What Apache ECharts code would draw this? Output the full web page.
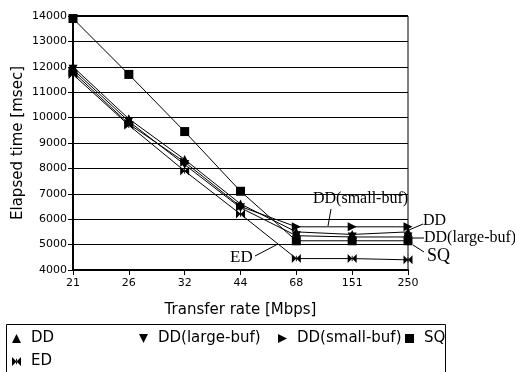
<!DOCTYPE html>
<html>
<head>
<meta charset="utf-8">
<script src="https://cdn.jsdelivr.net/npm/echarts@6/dist/echarts.min.js"></script>
<style>
  html, body { margin: 0; padding: 0; background: #fff; }
  #chart { width: 515px; height: 372px; }
</style>
</head>
<body>
<div id="chart"></div>
<script>
const categories = ['21', '26', '32', '44', '68', '151', '250']
const yTicks = [4000, 14000, 1000] // min, max, step

const dd = [12000, 9950, 8350, 6600, 5500, 5400, 5500]
const ddLarge = [11900, 9850, 8150, 6450, 5350, 5300, 5300]
const ddSmall = [11800, 9750, 8250, 6500, 5700, 5700, 5700]
const sq = [13900, 11700, 9450, 7100, 5150, 5150, 5150]
const ed = [11700, 9700, 7900, 6200, 4450, 4450, 4400]

const TRI_UP = 'path://M5,0 L10,10 L0,10 Z'
const TRI_DOWN = 'path://M0,0 L10,0 L5,10 Z'
const TRI_RIGHT = 'path://M0,0 L10,5 L0,10 Z'
const SQUARE = 'path://M0,0 L10,0 L10,10 L0,10 Z'
const BOWTIE = 'path://M0,0 L5,5 L0,10 Z M10,0 L5,5 L10,10 Z M4.5,2 L5.5,2 L5.5,8 L4.5,8 Z'

const sans = 'DejaVu Sans'
const serif = 'Liberation Serif'

const mkSeries = (name, data, symbol, size) => ({
  name,
  type: 'line',
  data,
  symbol,
  symbolSize: size,
  showAllSymbol: true,
  lineStyle: { color: '#000', width: 1 },
  itemStyle: { color: '#000' },
  animation: false
})

const mkLegend = (name, icon, left, top) => ({
  data: [name],
  icon,
  left,
  top,
  itemWidth: 9,
  itemHeight: 9,
  padding: 0,
  itemStyle: { color: '#000' },
  textStyle: { fontFamily: sans, fontSize: 15, color: '#000', padding: [0, 0, 0, 5] }
})

const chart = echarts.init(document.getElementById('chart'))

const option = {
  backgroundColor: '#fff',
  animation: false,
  grid: { left: 73, right: 107, top: 16, bottom: 102, outerBoundsMode: 'none', containLabel: false },
  legend: [
    mkLegend('DD', TRI_UP, 12, 331),
    mkLegend('DD(large-buf)', TRI_DOWN, 139, 331),
    mkLegend('DD(small-buf)', TRI_RIGHT, 278, 331),
    mkLegend('SQ', SQUARE, 405, 331),
    mkLegend('ED', BOWTIE, 12, 354)
  ],
  xAxis: {
    type: 'category',
    data: categories,
    boundaryGap: false,
    name: 'Transfer rate [Mbps]',
    nameLocation: 'middle',
    nameGap: 33,
    nameMoveOverlap: false,
    nameTextStyle: { fontFamily: sans, fontSize: 15, color: '#000' },
    axisLine: { lineStyle: { color: '#000', width: 2 } },
    axisTick: { show: true, length: 5, lineStyle: { color: '#000' } },
    axisLabel: { fontFamily: sans, fontSize: 11, color: '#000', margin: 8 }
  },
  yAxis: {
    type: 'value',
    min: yTicks[0],
    max: yTicks[1],
    interval: yTicks[2],
    name: 'Elapsed time [msec]',
    nameLocation: 'middle',
    nameGap: 47,
    nameMoveOverlap: false,
    nameTextStyle: { fontFamily: sans, fontSize: 15, color: '#000' },
    axisLine: { show: true, lineStyle: { color: '#000', width: 2 } },
    axisTick: { show: true, length: 5, lineStyle: { color: '#000' } },
    axisLabel: { fontFamily: sans, fontSize: 11, color: '#000', margin: 6, formatter: v => String(v) },
    splitLine: { show: true, lineStyle: { color: '#000', width: 1 } }
  },
  series: [
    mkSeries('DD', dd, TRI_UP, 9),
    mkSeries('DD(large-buf)', ddLarge, TRI_DOWN, 9),
    mkSeries('DD(small-buf)', ddSmall, TRI_RIGHT, 9),
    mkSeries('SQ', sq, SQUARE, 9),
    mkSeries('ED', ed, BOWTIE, 9)
  ],
  graphic: [
    // right and top border of plot
    { type: 'line', shape: { x1: 408, y1: 16, x2: 408, y2: 270 }, style: { stroke: '#000', lineWidth: 1 } },
    { type: 'line', shape: { x1: 73, y1: 16, x2: 408, y2: 16 }, style: { stroke: '#000', lineWidth: 2 } },
    // legend box
    { type: 'rect', shape: { x: 6.5, y: 324.5, width: 439, height: 60 }, style: { fill: 'none', stroke: '#000', lineWidth: 1 } },
    // annotations
    { type: 'text', left: 313, top: 191, style: { text: 'DD(small-buf)', font: '16px ' + serif, fill: '#000' } },
    { type: 'line', shape: { x1: 331, y1: 209, x2: 328, y2: 226 }, style: { stroke: '#000', lineWidth: 1 } },
    { type: 'text', left: 423, top: 213, style: { text: 'DD', font: '16px ' + serif, fill: '#000' } },
    { type: 'line', shape: { x1: 409, y1: 230, x2: 423, y2: 224 }, style: { stroke: '#000', lineWidth: 1 } },
    { type: 'text', left: 424, top: 230, style: { text: 'DD(large-buf)', font: '16px ' + serif, fill: '#000' } },
    { type: 'line', shape: { x1: 411, y1: 238, x2: 424, y2: 238 }, style: { stroke: '#000', lineWidth: 1 } },
    { type: 'text', left: 427, top: 247, style: { text: 'SQ', font: '18px ' + serif, fill: '#000' } },
    { type: 'line', shape: { x1: 413, y1: 245, x2: 424, y2: 252 }, style: { stroke: '#000', lineWidth: 1 } },
    { type: 'text', left: 230, top: 249, style: { text: 'ED', font: '17px ' + serif, fill: '#000' } },
    { type: 'line', shape: { x1: 255, y1: 256, x2: 278, y2: 244 }, style: { stroke: '#000', lineWidth: 1 } }
  ]
}

chart.setOption(option)
</script>
</body>
</html>
